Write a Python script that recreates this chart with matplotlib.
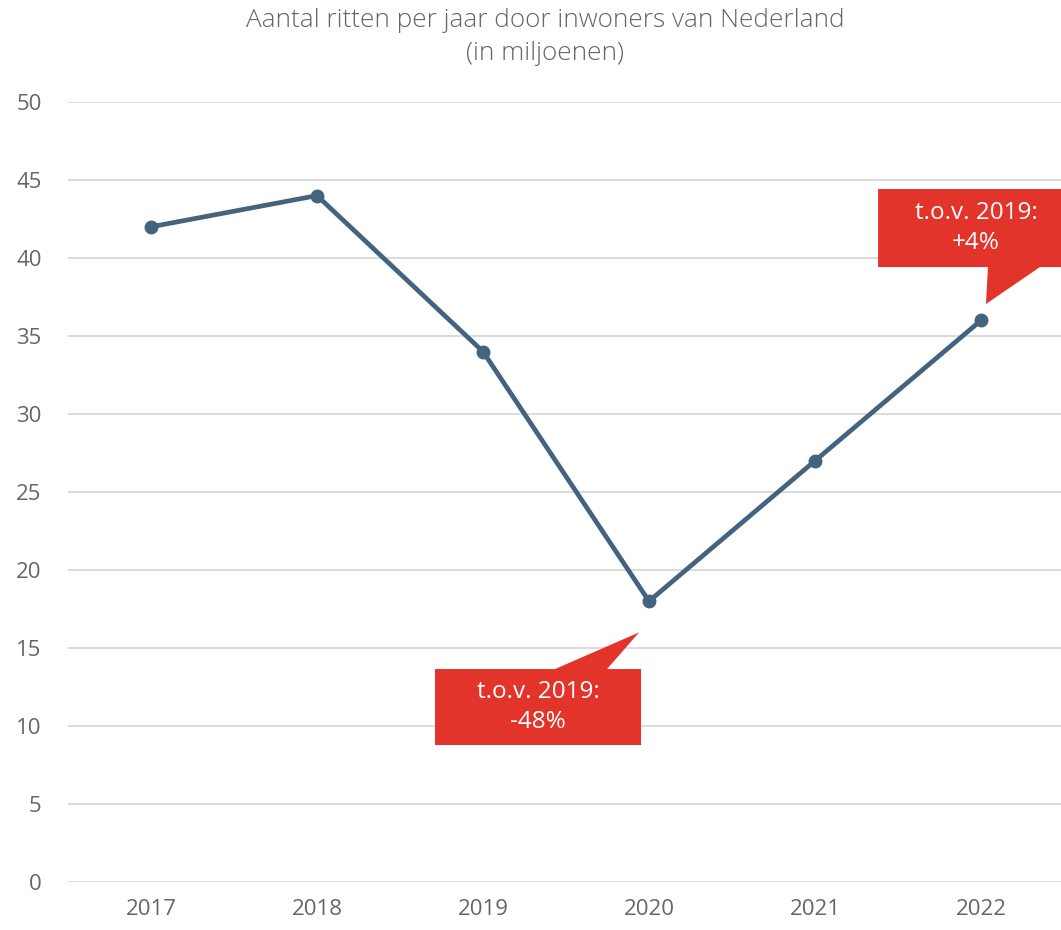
import matplotlib
matplotlib.use("Agg")
import matplotlib.pyplot as plt
from matplotlib.patches import Polygon

years = ["2017", "2018", "2019", "2020", "2021", "2022"]
ritten = [42, 44, 34, 18, 27, 36]
yticks = [0, 5, 10, 15, 20, 25, 30, 35, 40, 45, 50]
title = "Aantal ritten per jaar door inwoners van Nederland\n(in miljoenen)"
callout_texts = ["t.o.v. 2019:\n-48%", "t.o.v. 2019:\n+4%"]

plt.rcParams['font.family'] = ['Open Sans', 'DejaVu Sans']
W, H = 1061, 930
fig = plt.figure(figsize=(W/100, H/100), dpi=100)
left_px, right_px, top_px, bot_px = 68, 1064, 102, 882
ax = fig.add_axes([left_px/W, (H-bot_px)/H, (right_px-left_px)/W, (bot_px-top_px)/H])
ax.set_xlim(-0.5, 5.5)
ax.set_ylim(0, 50)
ax.set_yticks(yticks)
ax.set_xticks(range(len(years)))
ax.set_xticklabels(years)
ax.grid(axis='y', color='#d9d9d9', linewidth=1.3)
ax.set_axisbelow(True)
for s in ax.spines.values():
    s.set_visible(False)
ax.tick_params(length=0, labelsize=16, colors='#666666')
ax.tick_params(axis='y', pad=19)
ax.tick_params(axis='x', pad=12)

ax.plot(range(len(years)), ritten, color='#44637e', linewidth=3.4,
        marker='o', markersize=9, solid_capstyle='round', zorder=3)

red = '#e3342b'
# callout 1 (2020): rect + pointer, in data coords
c1 = [(1.711, 13.65), (2.434, 13.65), (2.940, 16.0), (2.747, 13.65),
      (2.952, 13.65), (2.952, 8.78), (1.711, 8.78)]
ax.add_patch(Polygon(c1, closed=True, facecolor=red, edgecolor='none', zorder=4, clip_on=False))
ax.text((1.711+2.952)/2, (13.65+8.78)/2, callout_texts[0], ha='center', va='center',
        color='white', fontsize=17.5, linespacing=1.38, zorder=5)

c2 = [(4.380, 44.42), (5.52, 44.42), (5.52, 39.42), (5.355, 39.42),
      (5.03, 37.05), (5.042, 39.42), (4.380, 39.42)]
ax.add_patch(Polygon(c2, closed=True, facecolor=red, edgecolor='none', zorder=4, clip_on=False))
ax.text(4.97, (44.42+39.42)/2, callout_texts[1], ha='center', va='center',
        color='white', fontsize=17.5, linespacing=1.38, zorder=5)

fig.text(545/W, 1-37/H, title, ha='center', va='center', fontsize=18.8,
         color='#666666', linespacing=1.45, fontweight='light')

fig.savefig("out.png", dpi=100, facecolor='white')
